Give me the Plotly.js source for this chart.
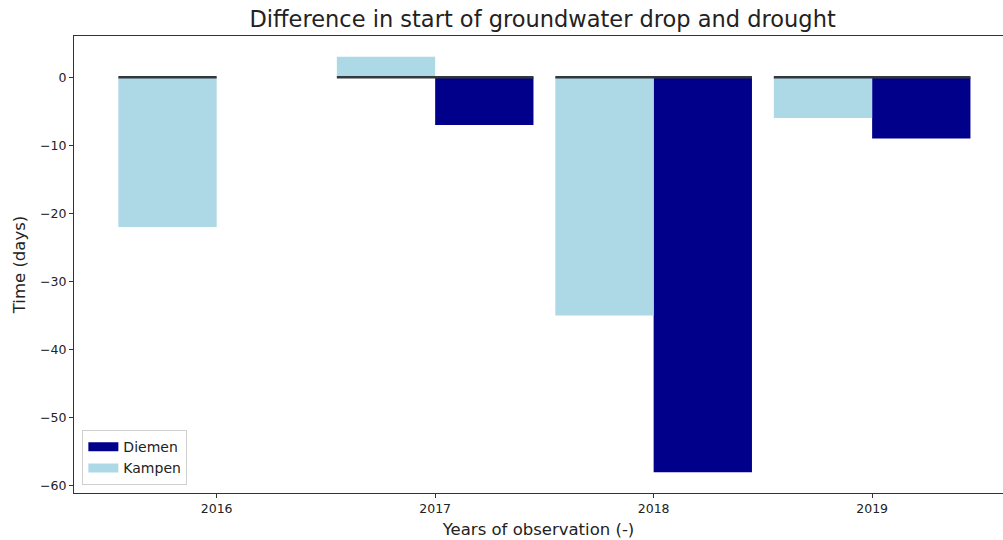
<!DOCTYPE html>
<html>
<head>
<meta charset="utf-8">
<script src="https://cdn.plot.ly/plotly-3.0.1.min.js"></script>
<style>html,body{margin:0;padding:0;background:#fff;overflow:hidden;}#chart{width:1003px;height:540px;}</style>
</head>
<body>
<div id="chart"></div>
<script>
const years = [2016, 2017, 2018, 2019];
const diemen = [null, -7, -58, -9];
const kampen = [-22, 3, -35, -6];
const tickLabels = ['2016', '2017', '2018', '2019'];
const yTicks = [0, -10, -20, -30, -40, -50, -60];

const barWidth = 0.45;
const diemenColor = '#00008b';
const kampenColor = '#add8e6';

// zero reference segments per group
const lx = [], ly = [];
years.forEach((yr, i) => {
  lx.push(yr - barWidth, diemen[i] === null ? yr : yr + barWidth, null);
  ly.push(0, 0, null);
});

const traces = [
  {
    type: 'bar', name: 'Diemen', x: years, y: diemen, showlegend: false,
    width: barWidth, offset: 0,
    marker: {color: diemenColor, line: {width: 0}}
  },
  {
    type: 'bar', name: 'Kampen', x: years, y: kampen, showlegend: false,
    width: barWidth, offset: -barWidth,
    marker: {color: kampenColor, line: {width: 0}}
  },
  {
    type: 'scatter', mode: 'lines', x: lx, y: ly, showlegend: false,
    line: {color: '#33383d', width: 2.5}, hoverinfo: 'skip'
  },
  // legend patches
  {type: 'scatter', mode: 'lines', name: 'Diemen', x: [null], y: [null], line: {color: diemenColor, width: 9}},
  {type: 'scatter', mode: 'lines', name: 'Kampen', x: [null], y: [null], line: {color: kampenColor, width: 9}}
];

const layout = {
  width: 1003, height: 540,
  margin: {l: 74, r: 0, t: 36, b: 47},
  paper_bgcolor: '#fff', plot_bgcolor: '#fff',
  font: {family: 'DejaVu Sans, sans-serif', color: '#222', size: 12.5},
  barmode: 'overlay',
  title: {text: 'Difference in start of groundwater drop and drought', x: 0.541, xanchor: 'center', y: 0.964, yanchor: 'middle', font: {size: 22.5, color: '#222'}},
  xaxis: {
    range: [2015.347, 2019.599], tickvals: years, ticktext: tickLabels,
    ticks: 'outside', ticklen: 4, tickcolor: '#333', showgrid: false, zeroline: false,
    showline: true, mirror: true, linecolor: '#333', linewidth: 1,
    tickfont: {size: 12.5},
    title: {text: 'Years of observation (-)', font: {size: 16.5, color: '#222'}, standoff: 8}
  },
  yaxis: {
    range: [-61.05, 6.05], tickvals: yTicks,
    ticks: 'outside', ticklen: 4, tickcolor: '#333', showgrid: false, zeroline: false,
    showline: true, mirror: false, linecolor: '#333', linewidth: 1,
    tickfont: {size: 12.5},
    title: {text: 'Time (days)', font: {size: 16.5, color: '#222'}, standoff: 10}
  },
  legend: {
    x: 0.009, y: 0.017, xanchor: 'left', yanchor: 'bottom',
    bgcolor: 'rgba(255,255,255,0.8)', bordercolor: '#d0d0d0', borderwidth: 1,
    font: {size: 14, color: '#222'}, traceorder: 'normal', itemwidth: 30,
    tracegroupgap: 0
  },
  showlegend: true
};

Plotly.newPlot('chart', traces, layout, {displayModeBar: false, staticPlot: true});
</script>
</body>
</html>
